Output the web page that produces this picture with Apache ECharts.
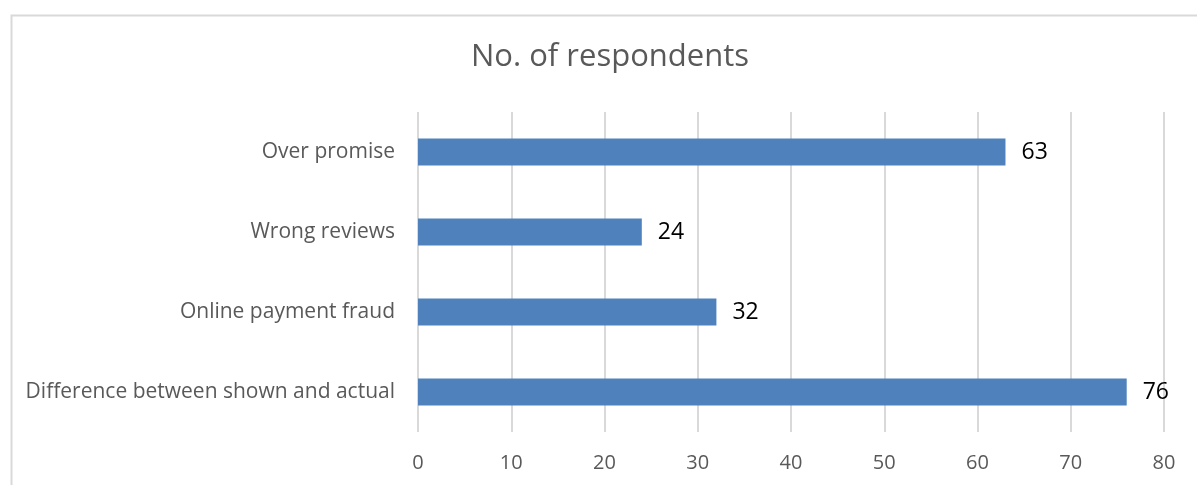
<!DOCTYPE html>
<html>
<head>
<meta charset="utf-8">
<script src="https://cdn.jsdelivr.net/npm/echarts@6/dist/echarts.min.js"></script>
<style>
  html, body { margin: 0; padding: 0; background: #ffffff; }
  #chart { width: 1197px; height: 485px; }
</style>
</head>
<body>
<div id="chart"></div>
<script>
// Reasons reported, listed bottom-to-top as on the category axis
const categories = [
  'Difference between shown and actual',
  'Online payment fraud',
  'Wrong reviews',
  'Over promise'
];
const respondents = [76, 32, 24, 63];
const xTicks = { min: 0, max: 80, step: 10 };

const chart = echarts.init(document.getElementById('chart'), null, { renderer: 'canvas' });

const FONT = '"Open Sans", "Noto Sans", sans-serif';
const GREY_TEXT = '#595959';
const GRID_LINE = '#D9D9D9';

chart.setOption({
  animation: false,
  backgroundColor: '#ffffff',
  graphic: [{
    type: 'rect',
    left: 9, top: 13,
    shape: { x: 0, y: 0, width: 1200, height: 480 },
    style: { fill: 'none', stroke: GRID_LINE, lineWidth: 2 },
    silent: true,
    z: -1
  }],
  title: {
    text: 'No. of respondents',
    left: 466,
    top: 37,
    textStyle: { fontFamily: FONT, fontSize: 31, fontWeight: 'normal', color: GREY_TEXT }
  },
  grid: { left: 418, right: 33, top: 112, bottom: 53, containLabel: false },
  xAxis: {
    type: 'value',
    min: xTicks.min, max: xTicks.max, interval: xTicks.step,
    axisLine: { show: false },
    axisTick: { show: false },
    splitLine: { show: true, lineStyle: { color: GRID_LINE, width: 2 } },
    axisLabel: { color: GREY_TEXT, fontFamily: FONT, fontSize: 20, margin: 21 }
  },
  yAxis: {
    type: 'category',
    data: categories,
    axisLine: { show: false },
    axisTick: { show: false },
    splitLine: { show: false },
    axisLabel: { color: GREY_TEXT, fontFamily: FONT, fontSize: 21, margin: 23 }
  },
  series: [{
    type: 'bar',
    data: respondents,
    barWidth: 27,
    itemStyle: { color: '#4F81BD' },
    label: {
      show: true,
      position: 'right',
      distance: 16,
      color: '#000000',
      fontFamily: FONT,
      fontSize: 23
    }
  }]
});
</script>
</body>
</html>
